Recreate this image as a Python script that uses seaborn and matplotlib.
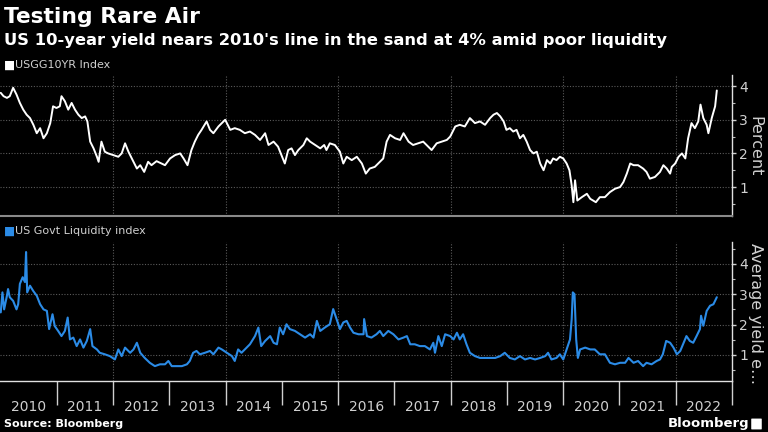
import matplotlib
matplotlib.use("Agg")
import matplotlib.pyplot as plt
from matplotlib.ticker import FixedLocator, NullFormatter, FixedFormatter, MultipleLocator
import pandas as pd
import seaborn as sns

# ---------------- data ----------------
yield_years = [
    2010.00, 2010.05, 2010.11, 2010.16, 2010.22, 2010.28, 2010.34, 2010.40, 2010.46, 2010.52,
    2010.58, 2010.64, 2010.70, 2010.76, 2010.82, 2010.88, 2010.93, 2010.99, 2011.05, 2011.08,
    2011.14, 2011.20, 2011.26, 2011.32, 2011.38, 2011.44, 2011.50, 2011.54, 2011.59, 2011.65,
    2011.71, 2011.74, 2011.79, 2011.85, 2011.91, 2012.00, 2012.09, 2012.15, 2012.21, 2012.27,
    2012.33, 2012.42, 2012.48, 2012.55, 2012.62, 2012.68, 2012.77, 2012.86, 2012.92, 2013.01,
    2013.10, 2013.19, 2013.25, 2013.32, 2013.39, 2013.45, 2013.51, 2013.57, 2013.66, 2013.72,
    2013.78, 2013.87, 2013.99, 2014.08, 2014.16, 2014.25,
    2014.34, 2014.43, 2014.52, 2014.61, 2014.70, 2014.76, 2014.85, 2014.93, 2014.99, 2015.05,
    2015.11, 2015.17, 2015.23, 2015.29, 2015.38, 2015.44, 2015.50, 2015.59, 2015.68, 2015.75,
    2015.79, 2015.85, 2015.94, 2016.03, 2016.09, 2016.15, 2016.24, 2016.33, 2016.42, 2016.49,
    2016.56, 2016.65, 2016.74, 2016.80, 2016.86, 2016.92, 2017.01, 2017.10, 2017.16, 2017.25,
    2017.33, 2017.42, 2017.51, 2017.60, 2017.66, 2017.75, 2017.84, 2017.93, 2017.99, 2018.08,
    2018.16, 2018.25, 2018.34, 2018.43, 2018.52, 2018.61,
    2018.70, 2018.76, 2018.82, 2018.88, 2018.94, 2018.99, 2019.05, 2019.11, 2019.17, 2019.23,
    2019.29, 2019.35, 2019.41, 2019.47, 2019.53, 2019.59, 2019.65, 2019.71, 2019.77, 2019.82,
    2019.88, 2019.94, 2020.00, 2020.06, 2020.11, 2020.15, 2020.18, 2020.21, 2020.25, 2020.33,
    2020.42, 2020.48, 2020.58, 2020.65, 2020.74, 2020.83, 2020.92, 2021.01, 2021.07, 2021.13,
    2021.19, 2021.25, 2021.33, 2021.42, 2021.48, 2021.54, 2021.63, 2021.72, 2021.78, 2021.84,
    2021.90, 2021.93, 2021.99, 2022.05, 2022.11, 2022.17, 2022.22, 2022.28, 2022.34, 2022.40,
    2022.44, 2022.49, 2022.55, 2022.58, 2022.64, 2022.70, 2022.73,
]
yield_values = [
    3.80, 3.70, 3.65, 3.70, 3.95, 3.75, 3.50, 3.30, 3.15, 3.05,
    2.85, 2.60, 2.75, 2.45, 2.60, 2.90, 3.40, 3.35, 3.40, 3.70,
    3.55, 3.30, 3.50, 3.30, 3.15, 3.05, 3.10, 2.95, 2.35, 2.15,
    1.90, 1.75, 2.35, 2.05, 2.00, 1.95, 1.90, 2.00, 2.30, 2.05,
    1.85, 1.55, 1.65, 1.45, 1.75, 1.65, 1.77, 1.70, 1.65, 1.85,
    1.95, 2.00, 1.85, 1.65, 2.10, 2.35, 2.55, 2.70, 2.95, 2.70,
    2.60, 2.80, 3.00, 2.70, 2.75, 2.70,
    2.60, 2.65, 2.55, 2.40, 2.60, 2.25, 2.35, 2.20, 1.95, 1.70,
    2.10, 2.15, 1.95, 2.10, 2.25, 2.45, 2.35, 2.25, 2.15, 2.25,
    2.10, 2.30, 2.25, 2.05, 1.70, 1.90, 1.80, 1.90, 1.70, 1.40,
    1.55, 1.60, 1.75, 1.85, 2.35, 2.55, 2.45, 2.40, 2.60, 2.35,
    2.25, 2.30, 2.35, 2.20, 2.10, 2.30, 2.35, 2.40, 2.50, 2.80,
    2.85, 2.80, 3.05, 2.90, 2.95, 2.85,
    3.05, 3.15, 3.20, 3.10, 2.95, 2.70, 2.75, 2.65, 2.70, 2.45,
    2.55, 2.35, 2.10, 2.00, 2.05, 1.70, 1.50, 1.80, 1.70, 1.85,
    1.80, 1.90, 1.85, 1.70, 1.50, 1.05, 0.55, 1.20, 0.60, 0.70,
    0.80, 0.65, 0.55, 0.70, 0.70, 0.85, 0.95, 1.00, 1.15, 1.40,
    1.70, 1.65, 1.65, 1.55, 1.45, 1.25, 1.30, 1.45, 1.65, 1.55,
    1.40, 1.60, 1.70, 1.90, 2.00, 1.85, 2.45, 2.90, 2.75, 2.95,
    3.45, 3.05, 2.85, 2.60, 3.05, 3.40, 3.87,
]

liq_years = [
    2010.00, 2010.03, 2010.06, 2010.11, 2010.13, 2010.16, 2010.22, 2010.28, 2010.31, 2010.34,
    2010.39, 2010.43, 2010.45, 2010.47, 2010.52, 2010.58, 2010.64, 2010.70, 2010.76, 2010.82,
    2010.86, 2010.92, 2010.96, 2011.02, 2011.08, 2011.14, 2011.19, 2011.23, 2011.29, 2011.35,
    2011.41, 2011.47, 2011.53, 2011.59, 2011.63, 2011.71, 2011.76, 2011.85, 2011.94, 2012.03,
    2012.09, 2012.15, 2012.21, 2012.30, 2012.36, 2012.42, 2012.48, 2012.56, 2012.65, 2012.74,
    2012.83, 2012.92, 2012.98, 2013.04, 2013.13, 2013.22, 2013.31, 2013.36, 2013.42, 2013.48,
    2013.54, 2013.63, 2013.72, 2013.78, 2013.87, 2013.93, 2014.02, 2014.11, 2014.16, 2014.22,
    2014.28,
    2014.34, 2014.43, 2014.52, 2014.58, 2014.63, 2014.70, 2014.79, 2014.85, 2014.91, 2014.96,
    2015.02, 2015.08, 2015.14, 2015.23, 2015.32, 2015.41, 2015.50, 2015.56, 2015.62, 2015.68,
    2015.76, 2015.85, 2015.91, 2015.97, 2016.03, 2016.09, 2016.15, 2016.21, 2016.27, 2016.36,
    2016.45, 2016.46, 2016.51, 2016.59, 2016.68, 2016.74, 2016.80, 2016.89, 2016.98, 2017.07,
    2017.16, 2017.22, 2017.28, 2017.36, 2017.45, 2017.54, 2017.63, 2017.69, 2017.72, 2017.78,
    2017.84, 2017.90, 2017.99, 2018.05, 2018.11, 2018.16, 2018.22, 2018.28, 2018.34, 2018.43,
    2018.52, 2018.61,
    2018.70, 2018.79, 2018.88, 2018.96, 2019.05, 2019.14, 2019.23, 2019.32, 2019.41, 2019.50,
    2019.59, 2019.68, 2019.73, 2019.79, 2019.88, 2019.94, 2020.00, 2020.06, 2020.12, 2020.15,
    2020.17, 2020.20, 2020.23, 2020.26, 2020.30, 2020.39, 2020.48, 2020.56, 2020.65, 2020.74,
    2020.83, 2020.92, 2021.01, 2021.10, 2021.16, 2021.25, 2021.33, 2021.42, 2021.48, 2021.57,
    2021.66, 2021.72, 2021.77, 2021.83, 2021.90, 2021.96, 2022.02, 2022.08, 2022.14, 2022.19,
    2022.25, 2022.31, 2022.37, 2022.43, 2022.45, 2022.49, 2022.55, 2022.61, 2022.67, 2022.73,
]
liq_values = [
    2.40, 3.06, 2.50, 2.95, 3.17, 2.90, 2.78, 2.50, 2.67, 3.34,
    3.56, 3.40, 4.39, 3.06, 3.28, 3.10, 2.95, 2.67, 2.50, 2.45,
    1.85, 2.34, 1.95, 1.79, 1.62, 1.79, 2.23, 1.51, 1.57, 1.29,
    1.51, 1.24, 1.46, 1.85, 1.29, 1.18, 1.07, 1.02, 0.96, 0.85,
    1.18, 0.96, 1.24, 1.07, 1.18, 1.40, 1.07, 0.90, 0.74, 0.63,
    0.69, 0.69, 0.80, 0.63, 0.63, 0.63, 0.69, 0.80, 1.07, 1.13,
    1.02, 1.07, 1.13, 1.02, 1.24, 1.18, 1.07, 0.96, 0.80, 1.18,
    1.07,
    1.18, 1.35, 1.62, 1.90, 1.29, 1.46, 1.62, 1.40, 1.35, 1.90,
    1.68, 2.01, 1.85, 1.79, 1.68, 1.57, 1.68, 1.57, 2.12, 1.79,
    1.90, 2.01, 2.51, 2.18, 1.85, 2.07, 2.12, 1.90, 1.73, 1.68,
    1.68, 2.18, 1.62, 1.57, 1.68, 1.79, 1.62, 1.79, 1.68, 1.51,
    1.57, 1.62, 1.35, 1.35, 1.29, 1.29, 1.18, 1.40, 1.07, 1.62,
    1.29, 1.68, 1.62, 1.51, 1.73, 1.51, 1.68, 1.35, 1.07, 0.96,
    0.90, 0.90,
    0.90, 0.90, 0.96, 1.07, 0.90, 0.85, 0.96, 0.85, 0.90, 0.85,
    0.90, 0.96, 1.07, 0.85, 0.90, 1.02, 0.85, 1.18, 1.51, 2.18,
    3.06, 3.00, 1.51, 0.90, 1.18, 1.24, 1.18, 1.18, 1.02, 1.02,
    0.74, 0.69, 0.74, 0.74, 0.90, 0.74, 0.80, 0.63, 0.74, 0.69,
    0.80, 0.85, 1.02, 1.46, 1.40, 1.24, 1.02, 1.13, 1.40, 1.62,
    1.46, 1.40, 1.62, 1.85, 2.29, 1.96, 2.45, 2.62, 2.67, 2.90,
]

year_tick_labels = ["2010", "2011", "2012", "2013", "2014", "2015", "2016",
                    "2017", "2018", "2019", "2020", "2021", "2022"]
year_label_pos = [2010.5, 2011.5, 2012.5, 2013.5, 2014.5, 2015.5, 2016.5,
                  2017.5, 2018.5, 2019.5, 2020.5, 2021.5, 2022.5]
year_boundaries = [2011, 2012, 2013, 2014, 2015, 2016, 2017, 2018, 2019, 2020, 2021, 2022, 2023]
grid_years = [2012, 2014, 2016, 2018, 2020, 2022]
y_ticks = [1, 2, 3, 4]

df_yield = pd.DataFrame({"year": yield_years, "value": yield_values})
df_liq = pd.DataFrame({"year": liq_years, "value": liq_values})

# ---------------- style ----------------
sns.set_theme(style="dark")
plt.rcParams['font.family'] = ['DejaVu Sans']

BG = "black"
TXT = "#d0d0d0"
GRID = "#5a5a5a"
BLUE = "#2b8be6"

W, H = 768, 432
fig = plt.figure(figsize=(W / 100, H / 100), dpi=100, facecolor=BG)


def px_axes(left, top, right, bottom):
    return fig.add_axes([left / W, 1 - bottom / H, (right - left) / W, (bottom - top) / H])


ax1 = px_axes(0, 75, 732, 216)
ax2 = px_axes(0, 242, 732, 381)

sns.lineplot(data=df_yield, x="year", y="value", ax=ax1, color="white", linewidth=1.4)
sns.lineplot(data=df_liq, x="year", y="value", ax=ax2, color=BLUE, linewidth=1.5)

xmin = 2010 - 0.75 / 56.25
for ax, ylim in ((ax1, (0.14, 4.33)), (ax2, (0.14, 4.72))):
    ax.set_facecolor(BG)
    ax.set_xlim(xmin, 2023)
    ax.set_ylim(*ylim)
    ax.set_xlabel("")
    ax.set_ylabel("")
    for s in ("left", "top"):
        ax.spines[s].set_visible(False)
    ax.spines["right"].set_color("#e0e0e0")
    ax.spines["right"].set_linewidth(1.0)
    ax.yaxis.tick_right()
    ax.yaxis.set_major_locator(FixedLocator(y_ticks))
    ax.yaxis.set_minor_locator(MultipleLocator(0.5))
    ax.tick_params(axis="y", which="major", colors=TXT, labelsize=10, length=3,
                   width=1, pad=2, direction="out", right=True, left=False)
    ax.tick_params(axis="y", which="minor", color="#bbbbbb", length=2, width=0.8,
                   right=True, left=False)
    ax.grid(False)
    ax.grid(axis="y", which="major", color=GRID, linestyle=(0, (1, 1.5)), linewidth=0.8)
    for g in grid_years:
        ax.axvline(g, color=GRID, linestyle=(0, (1, 1.5)), linewidth=0.8, zorder=0)

# top panel x-axis: no ticks, gray bottom line
ax1.spines["bottom"].set_color("#8a8a8a")
ax1.spines["bottom"].set_linewidth(1.5)
ax1.xaxis.set_major_locator(FixedLocator([]))
ax1.tick_params(axis="x", which="both", length=0, labelbottom=False)

# bottom panel x-axis: separators at year boundaries, labels centered in years
ax2.spines["bottom"].set_color("#e0e0e0")
ax2.spines["bottom"].set_linewidth(1.0)
ax2.xaxis.set_major_locator(FixedLocator(year_boundaries))
ax2.xaxis.set_major_formatter(NullFormatter())
ax2.xaxis.set_minor_locator(FixedLocator(year_label_pos))
ax2.xaxis.set_minor_formatter(FixedFormatter(year_tick_labels))
ax2.tick_params(axis="x", which="major", length=17, width=1, color="#cfcfcf",
                direction="out", bottom=True)
ax2.tick_params(axis="x", which="minor", length=0, labelsize=10, labelcolor=TXT, pad=14,
                bottom=True)

# right-hand axis titles
fig.text(755 / W, 1 - 146 / H, "Percent", rotation=270, ha="center", va="center",
         color=TXT, fontsize=11.5)
fig.text(755 / W, 1 - 314 / H, "Average yield e\u2026", rotation=270, ha="center",
         va="center", color=TXT, fontsize=11.5)

# series labels
fig.text(4 / W, 1 - 65 / H, "\u25A0", color="white", fontsize=8.5, ha="left", va="center")
fig.text(15 / W, 1 - 65 / H, "USGG10YR Index", color=TXT, fontsize=8, ha="left", va="center")
fig.text(4 / W, 1 - 231 / H, "\u25A0", color=BLUE, fontsize=8.5, ha="left", va="center")
fig.text(15 / W, 1 - 231 / H, "US Govt Liquidity index", color=TXT, fontsize=8,
         ha="left", va="center")

# titles
title = fig.text(4 / W, 1 - 17 / H, "Testing Rare Air", color="white", fontsize=15,
                 fontweight="bold", ha="left", va="center")
subtitle = fig.text(4 / W, 1 - 40 / H,
                    "US 10-year yield nears 2010's line in the sand at 4% amid poor liquidity",
                    color="white", fontsize=12.5, fontweight="bold", ha="left", va="center")

# footer
fig.text(4 / W, 1 - 424 / H, "Source: Bloomberg", color="white", fontsize=8,
         fontweight="bold", ha="left", va="center")
fig.text(749 / W, 1 - 424 / H, "Bloomberg", color="white", fontsize=9.5,
         fontweight="bold", ha="right", va="center")
fig.patches.append(matplotlib.patches.FancyBboxPatch(
    (752 / W, 1 - 429 / H), 9 / W, 10 / H, boxstyle="round,pad=0.001",
    transform=fig.transFigure, facecolor="white", edgecolor="none"))

# fit title widths to the reference
fig.canvas.draw()
r = fig.canvas.get_renderer()
for t, target in ((title, 196), (subtitle, 664)):
    w = t.get_window_extent(r).width
    t.set_fontsize(t.get_fontsize() * target / w)

fig.savefig("out.png", dpi=100, facecolor=BG)
